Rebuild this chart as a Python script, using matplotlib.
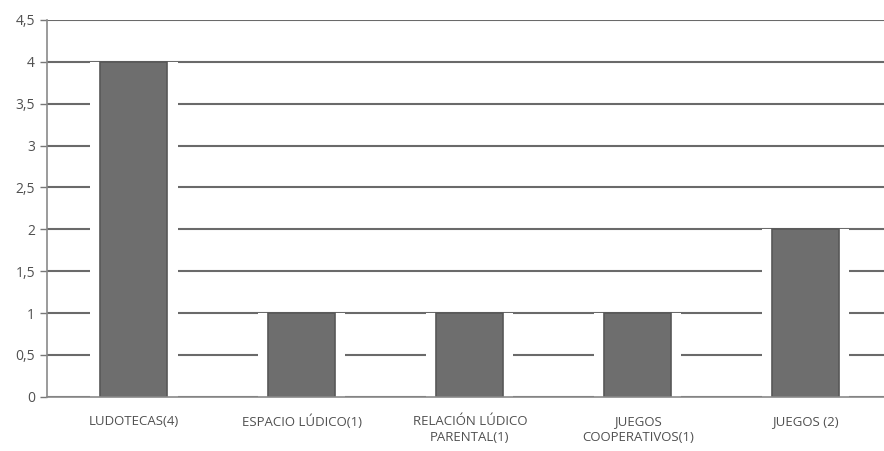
import matplotlib
matplotlib.use("Agg")
from matplotlib import pyplot as plt

categories = ["LUDOTECAS(4)", "ESPACIO LÚDICO(1)", "RELACIÓN LÚDICO\nPARENTAL(1)",
              "JUEGOS\nCOOPERATIVOS(1)", "JUEGOS (2)"]
values = [4, 1, 1, 1, 2]
yticks = [0, 0.5, 1, 1.5, 2, 2.5, 3, 3.5, 4, 4.5]
ytick_labels = ["0", "0,5", "1", "1,5", "2", "2,5", "3", "3,5", "4", "4,5"]

plt.rcParams['font.family'] = ['Open Sans', 'DejaVu Sans']

fig = plt.figure(figsize=(8.84, 4.51), dpi=100)
ax = fig.add_axes([0.053, 0.12, 0.95, 0.836])

x = range(len(categories))
# white halo so the gridlines stop short of the bars
ax.bar(x, values, width=0.52, color='white', linewidth=0, zorder=2)
ax.bar(x, values, width=0.4, color='#6e6e6e', edgecolor='#585858', linewidth=1.2, zorder=3)

# gridlines
ax.set_yticks(yticks)
ax.set_yticklabels(ytick_labels)
ax.grid(axis='y', color='#6a6a6a', linewidth=1.5, zorder=1)
ax.set_axisbelow(True)

ax.set_xticks(list(x))
ax.set_xticklabels(categories, fontsize=9.5, color='#505050', linespacing=1.3)
ax.tick_params(axis='x', length=0, pad=13)
ax.tick_params(axis='y', labelsize=10, colors='#505050', length=5, width=1, direction='out')
ax.tick_params(axis='y', color='#777777')

ax.set_xlim(-0.518, 4.482)
ax.set_ylim(0, 4.5)

for s in ['top', 'right']:
    ax.spines[s].set_visible(False)
ax.spines['left'].set_color('#8a8a8a')
ax.spines['bottom'].set_color('#8a8a8a')
ax.spines['left'].set_linewidth(1.2)
ax.spines['bottom'].set_linewidth(1.2)
ax.spines['bottom'].set_zorder(4)

fig.savefig("out.png", dpi=100)
